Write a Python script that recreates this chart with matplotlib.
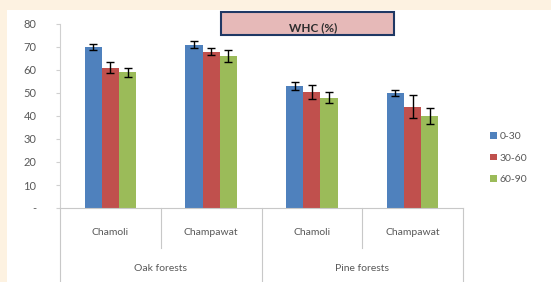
import matplotlib.pyplot as plt
import numpy as np
from matplotlib.patches import Rectangle

sites = ["Chamoli", "Champawat", "Chamoli", "Champawat"]
forests = ["Oak forests", "Pine forests"]
depths = ["0-30", "30-60", "60-90"]
whc_0_30 = [70, 71, 53, 50]
whc_30_60 = [61, 68, 50.5, 44]
whc_60_90 = [59, 66, 48, 40]
err_0_30 = [1.5, 1.5, 1.8, 1.5]
err_30_60 = [2.5, 1.5, 3, 5]
err_60_90 = [2, 2.5, 2.5, 3.5]
yticks = [0, 10, 20, 30, 40, 50, 60, 70, 80]
ylabels = ["-", "10", "20", "30", "40", "50", "60", "70", "80"]

colors = ["#4F81BD", "#C0504D", "#9BBB59"]
txt = "#595959"
plt.rcParams['font.family'] = ['Lato', 'DejaVu Sans']

W, H = 551, 282
fig = plt.figure(figsize=(W / 100, H / 100), dpi=100)
fig.patch.set_facecolor("#FDF2E1")

def fx(px):
    return px / W

def fy(py):
    return 1 - py / H

# white chart area
fig.add_artist(Rectangle((fx(7), 0), 1 - fx(7), fy(10), transform=fig.transFigure,
                         facecolor="white", edgecolor="none", zorder=0))

ax = fig.add_axes([fx(60), fy(208), fx(463) - fx(60), fy(24) - fy(208)])
ax.set_facecolor("white")

x = np.arange(len(sites))
w = 0.17
series = [whc_0_30, whc_30_60, whc_60_90]
errs = [err_0_30, err_30_60, err_60_90]
for i, (vals, e) in enumerate(zip(series, errs)):
    ax.bar(x + (i - 1) * w, vals, w, color=colors[i], label=depths[i], zorder=2)
    ax.errorbar(x + (i - 1) * w, vals, yerr=e, fmt="none", ecolor="black",
                elinewidth=1, capsize=3, capthick=1, zorder=3)

ax.set_xlim(-0.5, len(sites) - 0.5)
ax.set_ylim(0, 80)
ax.set_yticks(yticks)
ax.set_yticklabels(ylabels, color=txt, fontsize=8)
ax.tick_params(axis="y", length=3, color="#D0D0D0", pad=14)
ax.set_xticks([])
for s in ["top", "right"]:
    ax.spines[s].set_visible(False)
ax.spines["left"].set_color("#D0D0D0")
ax.spines["bottom"].set_color("#C8C8C8")

# category labels and separators
for i, s in enumerate(sites):
    ax.text(i, -10.5, s, ha="center", va="center", color=txt, fontsize=7.5, clip_on=False)
for j, f in enumerate(forests):
    ax.text(2 * j + 0.5, -26.5, f, ha="center", va="center", color=txt, fontsize=7.5, clip_on=False)
sep_kw = dict(color="#C8C8C8", lw=0.8, clip_on=False)
for xs in [-0.5, 1.5, 3.5]:
    ax.plot([xs, xs], [0, -40], **sep_kw)
for xs in [0.5, 2.5]:
    ax.plot([xs, xs], [0, -17.5], **sep_kw)

# title box
fig.add_artist(Rectangle((fx(221), fy(35)), fx(394) - fx(221), fy(12) - fy(35),
                         transform=fig.transFigure, facecolor="#E6B9B8",
                         edgecolor="#1F3864", lw=1.5, zorder=5))
fig.text(fx(313), fy(28), "WHC (%)", ha="center", va="center", fontsize=8.5,
         fontweight="bold", color="#2E2E2E", zorder=6)

ax.legend(loc="center left", bbox_to_anchor=((fx(481) - fx(60)) / (fx(463) - fx(60)), 0.27),
          frameon=False, fontsize=7.5, labelcolor=txt, handlelength=0.6, handleheight=0.6,
          handletextpad=0.3, labelspacing=1.2)

fig.savefig("out.png", dpi=100, facecolor=fig.get_facecolor())
